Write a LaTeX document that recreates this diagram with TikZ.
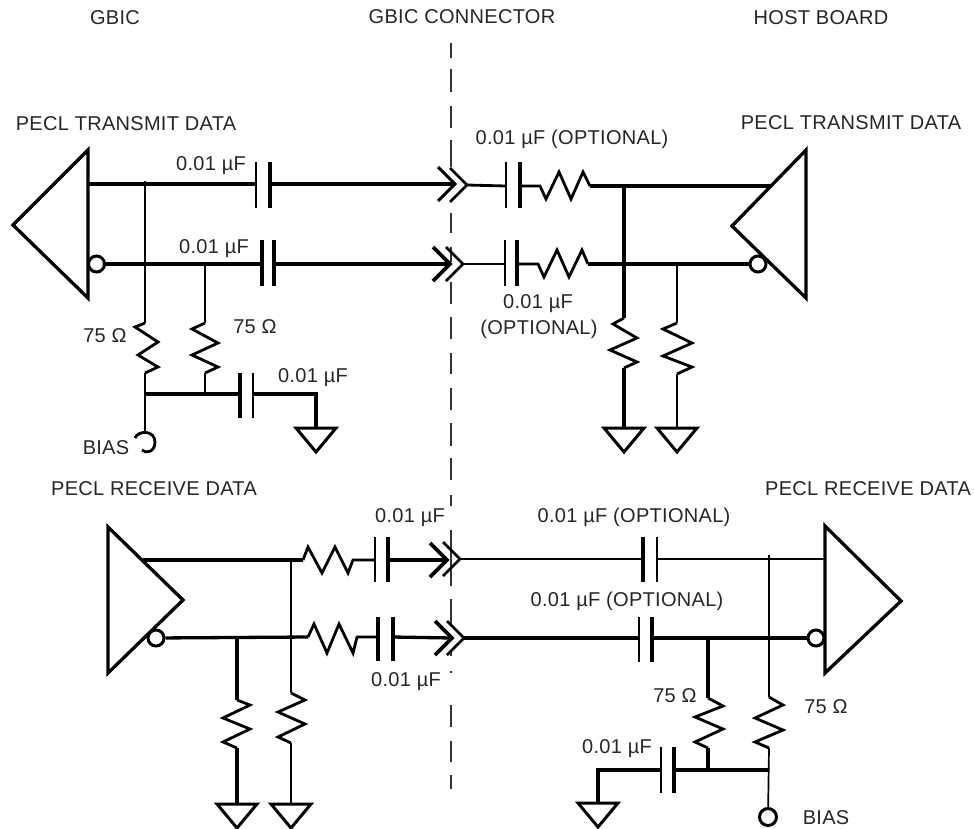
\documentclass[tikz,border=0pt]{standalone}
\usepackage{fontspec}
\setmainfont[LetterSpace=1.5]{Liberation Sans}
\tikzset{
  wa/.style={line width=3.3pt,line join=miter,line cap=butt},
  wb/.style={line width=2.8pt,line join=miter,line cap=butt},
  wc/.style={line width=1.7pt,line join=miter,line cap=butt},
  amp/.style={line width=3.3pt,line join=miter,miter limit=10},
  bubble/.style={circle,draw,fill=white,line width=3pt,minimum size=16pt,inner sep=0pt},
  tag/.style={anchor=base,inner sep=0pt,text=black!85,font=\fontsize{20}{24}\selectfont},
  dashline/.style={line width=2pt,draw=black!80},
}
\newcommand\gnd[5][wa]{% name, x, top y, half width
  \coordinate (#2) at (#3,#4);
  \draw[wb,line width=3pt,line join=miter] ($(#2)+(-#5,0)$) -- ($(#2)+(#5,0)$) -- ($(#2)+(0,24)$) -- cycle;}
\newcommand\capv[8]{% name, x1, x2, y top, y bottom, y wire, width1, width2
  \coordinate (#1-a) at (#2,#6);
  \coordinate (#1-b) at (#3,#6);
  \draw[line width=#7pt] (#2,#4) -- (#2,#5);
  \draw[line width=#8pt] (#3,#4) -- (#3,#5);}
\newcommand\chevron[4]{% name, x, y, width
  \coordinate (#1) at (#2,#3);
  \draw[line width=#4pt,line join=miter] ($(#1)+(-17,-17)$) -- (#1) -- ($(#1)+(-17,17)$);}
\newcommand\amptri[7]{% name, three corners
  \coordinate (#1-top) at (#2,#3);
  \coordinate (#1-bot) at (#4,#5);
  \coordinate (#1-tip) at (#6,#7);
  \draw[amp] (#1-top) -- (#1-tip) -- (#1-bot) -- cycle;}
\newcommand\lab[4]{\node[tag] (#1) at (#2,#3) {#4};}
\usetikzlibrary{calc}
\begin{document}
\begin{tikzpicture}[x=1pt,y=-1pt]
\useasboundingbox (0,0) rectangle (974,828);
% connector line
\foreach \ya/\yb in {43/58,69/92,106/128,140/167,213/233,247/262,282/304,317/339,353/374,388/410,423/446,458/480,495/506,530/586,599/625,650/656,671/673,705/727,741/762,775/789}
  \draw[dashline] (451,\ya) -- (451,\yb);

% --- headers
\lab{h1}{115}{24}{GBIC}
\lab{h2}{462}{23}{GBIC CONNECTOR}
\lab{h3}{821}{24}{HOST BOARD}
\lab{t1}{126}{130}{PECL TRANSMIT DATA}
\lab{t2}{851}{129}{PECL TRANSMIT DATA}
\lab{t3}{154}{495}{PECL RECEIVE DATA}
\lab{t4}{868}{495}{PECL RECEIVE DATA}

% --- transmit, left
\amptri{A}{88}{150}{88}{298}{13}{225}
\node[bubble] (Ab) at (96.5,264) {};
\coordinate (Aout) at (88,184);
\capv{C1}{256}{270}{162}{208}{184}{2.2}{3.2}
\capv{C2}{262}{274}{240}{286}{264}{3.2}{3.2}
\chevron{X1a}{455}{184}{3}
\chevron{X1b}{467}{185}{2.6}
\chevron{X2a}{450}{264}{3.6}
\chevron{X2b}{463}{264}{2.6}
\draw[wa] (Aout) -- (C1-a) (C1-b) -- (X1a);
\draw[wa] (Ab) -- (C2-a) (C2-b) -- (X2a);

\coordinate (J1) at (145,181);
\coordinate (R1t) at (145,323);
\coordinate (R1b) at (145,373);
\coordinate (J2) at (205,264);
\coordinate (R2t) at (205,323);
\coordinate (R2b) at (205,373);
\coordinate (J3) at (145,394);
\coordinate (J4) at (205,394);
\coordinate (Bia) at (145,432);
\draw[wc] (J1) -- (R1t);
\draw[wb] (R1t) -- (135,327) -- (158,342) -- (138,355) -- (158,367) -- (R1b);
\draw[wc] (R1b) -- (Bia);
\draw[wc] (J2) -- (R2t);
\draw[wb] (R2t) -- (192,329) -- (218,343) -- (192,355) -- (218,367) -- (R2b);
\draw[wc] (R2b) -- (J4);
\capv{C3}{240}{253}{373}{418}{394}{3.2}{2.2}
\coordinate (C3g) at (316,394);
\gnd{G1}{316}{428}{20}
\draw[wa] (J3) -- (C3-a);
\draw[wa] (C3-b) -- (C3g) -- (G1);
\draw[wb] (135,438) .. controls (138,430) and (155,430) .. (155,442) .. controls (155,452) and (146,454) .. (142,450);

\lab{n1}{211}{170}{0.01 µF}
\lab{n2}{214}{253}{0.01 µF}
\lab{n3}{313}{382}{0.01 µF}
\lab{r1}{105}{342}{75 Ω}
\lab{r2}{255}{333}{75 Ω}
\lab{b1}{106}{454}{BIAS}

% --- transmit, right
\amptri{B}{806}{150}{806}{298}{732}{226}
\node[bubble] (Bb) at (758,264) {};
\coordinate (Bin) at (771,186);
\capv{C4}{506}{520}{162}{208}{186}{2.2}{3.2}
\capv{C5}{505}{517}{240}{286}{264}{2.2}{3.2}
\coordinate (R3a) at (540,186);
\coordinate (R3b) at (590,186);
\coordinate (R4a) at (538,264);
\coordinate (R4b) at (588,264);
\coordinate (J5) at (624,186);
\coordinate (J6) at (624,264);
\coordinate (J7) at (677,264);
\draw[wb] (X1b) -- (C4-a);
\draw[wb] (C4-b) -- (R3a) -- (546,199) -- (559,172) -- (571,199) -- (583,172) -- (R3b);
\draw[wa] (R3b) -- (Bin);
\draw[wb] (X2b) -- (C5-a);
\draw[wb] (C5-b) -- (R4a) -- (544,277) -- (557,250) -- (569,277) -- (582,250) -- (R4b);
\draw[wa] (R4b) -- (Bb);
\coordinate (R5t) at (624,318);
\coordinate (R5b) at (624,368);
\coordinate (R6t) at (677,323);
\coordinate (R6b) at (677,374);
\gnd{G2}{624}{428}{20}
\gnd{G3}{677}{428}{20}
\draw[wa] (J5) -- (R5t);
\draw[wb] (R5t) -- (613,324) -- (637,338) -- (610,350) -- (637,362) -- (R5b);
\draw[wa] (R5b) -- (G2);
\draw[wc] (J7) -- (R6t);
\draw[wb] (R6t) -- (663,329) -- (692,343) -- (663,356) -- (692,367) -- (R6b);
\draw[wc] (R6b) -- (G3);

\lab{n4}{572}{144}{0.01 µF (OPTIONAL)}
\lab{n5}{538}{308}{0.01 µF}
\lab{n6}{539}{334}{(OPTIONAL)}

% --- receive, left
\amptri{D}{108}{527}{108}{673}{183}{600}
\node[bubble] (Db) at (156,638) {};
\coordinate (Dout) at (143,560);
\coordinate (R7a) at (303,560);
\coordinate (R7b) at (353,560);
\coordinate (R8a) at (308,637);
\coordinate (R8b) at (357,637);
\capv{C6}{375}{388}{537}{582}{560}{2.2}{3.2}
\capv{C7}{378}{393}{617}{661}{637}{3.2}{3.2}
\chevron{X3a}{447}{560}{3.6}
\chevron{X3b}{460}{559}{2.6}
\chevron{X4a}{452}{638}{3.6}
\chevron{X4b}{464}{638}{2.6}
\draw[wa] (Dout) -- (R7a);
\draw[wb] (R7a) -- (308,547) -- (322,573) -- (335,547) -- (348,573) -- (R7b) -- (C6-a);
\draw[wa] (C6-b) -- (X3a);
\draw[wa] (Db) -- (R8a);
\draw[wb] (R8a) -- (314,624) -- (327,653) -- (339,624) -- (353,653) -- (R8b) -- (C7-a);
\draw[wa] (C7-b) -- (X4a);
\coordinate (J8) at (237,637);
\coordinate (J9) at (291,560);
\coordinate (R9t) at (237,700);
\coordinate (R9b) at (237,748);
\coordinate (R10t) at (291,693);
\coordinate (R10b) at (291,743);
\gnd{G4}{237}{804}{20}
\gnd{G5}{291}{804}{20}
\draw[wa] (J8) -- (R9t);
\draw[wb] (R9t) -- (250,705) -- (223,718) -- (250,729) -- (223,742) -- (R9b);
\draw[wa] (R9b) -- (G4);
\draw[wc] (J9) -- (R10t);
\draw[wb] (R10t) -- (305,700) -- (278,712) -- (305,724) -- (278,737) -- (R10b);
\draw[wc] (R10b) -- (G5);

\lab{n7}{410}{522}{0.01 µF}
\lab{n8}{406}{686}{0.01 µF}

% --- receive, right
\amptri{E}{825}{526}{825}{673}{901}{601}
\node[bubble] (Eb) at (816,638) {};
\coordinate (Ein) at (825,559);
\capv{C8}{643}{657}{537}{582}{559}{3.2}{2.2}
\capv{C9}{639}{652}{617}{662}{638}{2.2}{3.2}
\draw[wc] (X3b) -- (C8-a);
\draw[wc] (C8-b) -- (Ein);
\draw[wa] (X4b) -- (C9-a);
\draw[wa] (C9-b) -- (Eb);
\coordinate (J10) at (708,638);
\coordinate (J11) at (769,555);
\coordinate (R11t) at (708,698);
\coordinate (R11b) at (708,748);
\coordinate (R12t) at (769,697);
\coordinate (R12b) at (769,748);
\coordinate (J12) at (708,770);
\coordinate (J13) at (769,770);
\node[bubble,minimum size=17pt] (Bias2) at (768,817) {};
\draw[wa] (J10) -- (R11t);
\draw[wb] (R11t) -- (723,706) -- (695,717) -- (723,729) -- (695,742) -- (R11b);
\draw[wa] (R11b) -- (J12);
\draw[wc] (J11) -- (R12t);
\draw[wb] (R12t) -- (783,705) -- (755,718) -- (783,730) -- (755,742) -- (R12b);
\draw[wc] (R12b) -- (Bias2);
\capv{C10}{661}{674}{747}{793}{770}{2.2}{3.2}
\coordinate (C10g) at (598,770);
\gnd{G6}{598}{803}{20}
\draw[wa] (C10-b) -- (J13);
\draw[wa] (C10-a) -- (C10g) -- (G6);

\lab{n9}{634}{522}{0.01 µF (OPTIONAL)}
\lab{n10}{627}{606}{0.01 µF (OPTIONAL)}
\lab{r3}{675}{702}{75 Ω}
\lab{r4}{826}{713}{75 Ω}
\lab{n11}{617}{753}{0.01 µF}
\lab{b2}{826}{824}{BIAS}
\end{tikzpicture}
\end{document}
